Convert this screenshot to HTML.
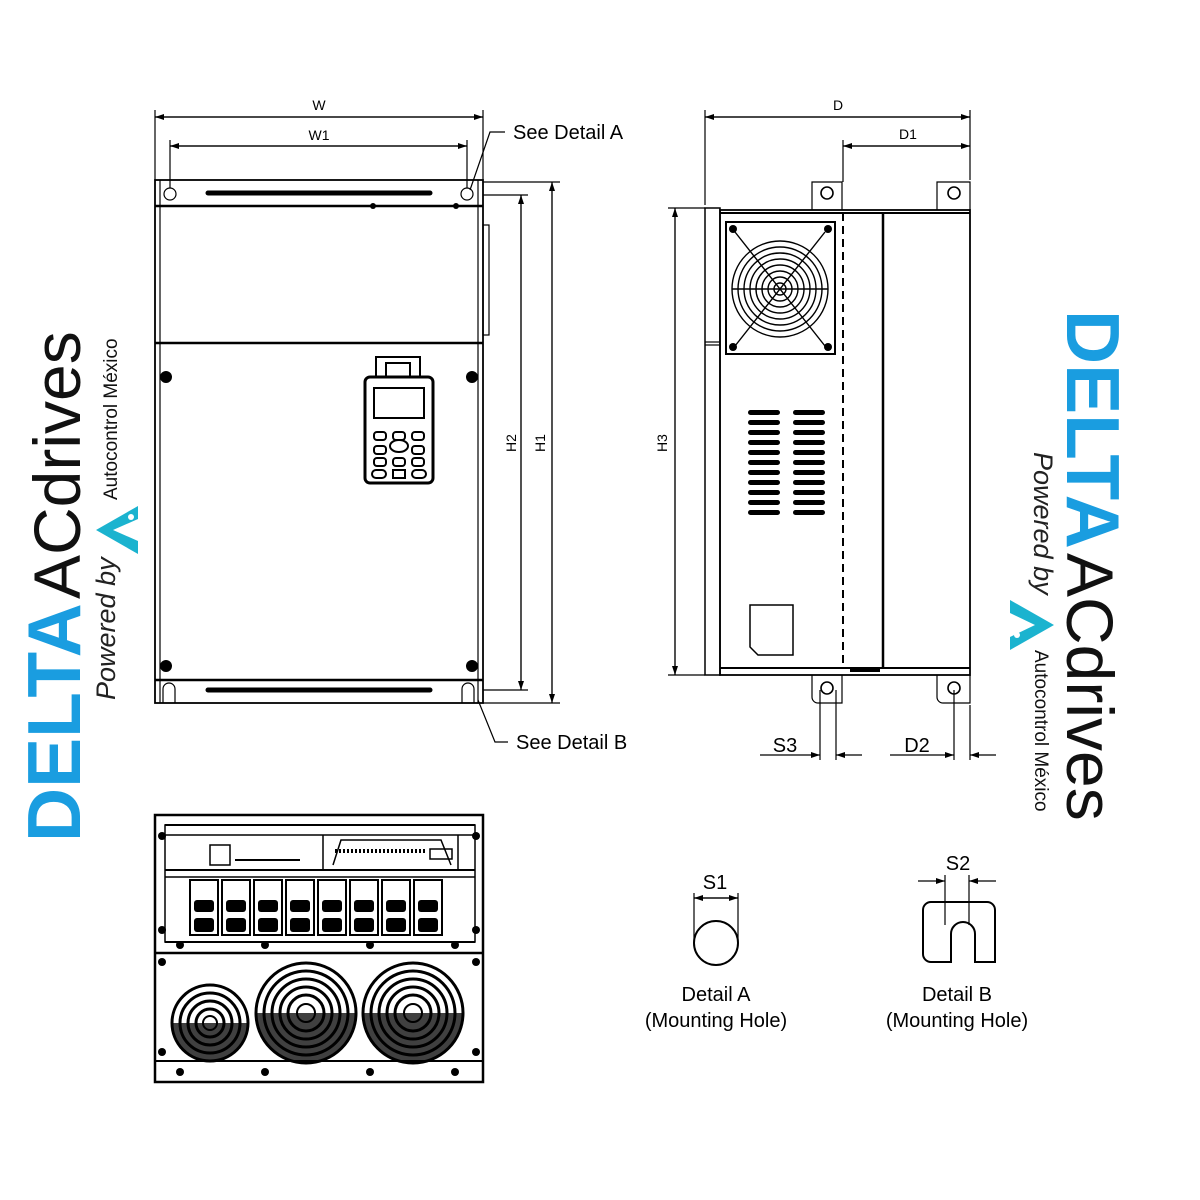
<!DOCTYPE html>
<html><head><meta charset="utf-8"><style>
html,body{margin:0;padding:0;background:#fff;}
svg{display:block;}
text{font-family:"Liberation Sans",sans-serif;}
</style></head><body>
<svg width="1200" height="1200" viewBox="0 0 1200 1200" xmlns="http://www.w3.org/2000/svg">
<defs>
<marker id="ar" markerWidth="10" markerHeight="8" refX="9" refY="4" orient="auto" markerUnits="userSpaceOnUse"><path d="M0,1 L9,4 L0,7 z" fill="#000"/></marker>
</defs>
<g fill="none" stroke="#000" stroke-width="1.2">
<line x1="155" y1="110" x2="155" y2="180"/><line x1="483" y1="110" x2="483" y2="180"/>
<line x1="155" y1="117" x2="483" y2="117" marker-end="url(#ar)"/><line x1="483" y1="117" x2="155" y2="117" marker-end="url(#ar)"/>
<line x1="170" y1="140" x2="170" y2="188"/><line x1="467" y1="140" x2="467" y2="188"/>
<line x1="170" y1="146" x2="467" y2="146" marker-end="url(#ar)"/><line x1="467" y1="146" x2="170" y2="146" marker-end="url(#ar)"/>
<line x1="483" y1="182" x2="560" y2="182"/><line x1="483" y1="703" x2="560" y2="703"/>
<line x1="552" y1="182" x2="552" y2="703" marker-end="url(#ar)"/><line x1="552" y1="703" x2="552" y2="182" marker-end="url(#ar)"/>
<line x1="483" y1="195" x2="528" y2="195"/><line x1="483" y1="690" x2="528" y2="690"/>
<line x1="521" y1="195" x2="521" y2="690" marker-end="url(#ar)"/><line x1="521" y1="690" x2="521" y2="195" marker-end="url(#ar)"/>
<polyline points="470,190 490,132 505,132"/>
<polyline points="478,700 495,742 508,742"/>
<rect x="155" y="180" width="328" height="523" stroke-width="1.8"/>
<line x1="155" y1="206" x2="483" y2="206" stroke-width="2.5"/>
<line x1="155" y1="343" x2="483" y2="343" stroke-width="2.5"/>
<line x1="155" y1="680" x2="483" y2="680" stroke-width="2.5"/>
<line x1="160" y1="180" x2="160" y2="703"/><line x1="478" y1="180" x2="478" y2="703"/>
<circle cx="170" cy="194" r="6"/><circle cx="467" cy="194" r="6"/>
<line x1="208" y1="193" x2="430" y2="193" stroke-width="5" stroke-linecap="round"/>
<line x1="208" y1="690" x2="430" y2="690" stroke-width="5" stroke-linecap="round"/>
<path d="M163,703 v-14 a6,6 0 0 1 12,0 v14"/><path d="M462,703 v-14 a6,6 0 0 1 12,0 v14"/>
<rect x="483" y="225" width="6" height="110"/>
<rect x="365" y="377" width="68" height="106" rx="5" stroke-width="3"/>
<path d="M376,377 v-20 h44 v20 M386,377 v-14 h24 v14" stroke-width="2"/>
<rect x="374" y="388" width="50" height="30" stroke-width="2"/>
<g stroke-width="2">
<rect x="374" y="432" width="12" height="8" rx="3"/><rect x="393" y="432" width="12" height="8" rx="3"/><rect x="412" y="432" width="12" height="8" rx="3"/>
<rect x="374" y="446" width="12" height="8" rx="3"/><ellipse cx="399" cy="446" rx="9" ry="6"/><rect x="412" y="446" width="12" height="8" rx="3"/>
<rect x="374" y="458" width="12" height="8" rx="3"/><rect x="393" y="458" width="12" height="8" rx="3"/><rect x="412" y="458" width="12" height="8" rx="3"/>
<rect x="372" y="470" width="14" height="8" rx="4"/><rect x="393" y="470" width="12" height="8"/><rect x="412" y="470" width="14" height="8" rx="4"/>
</g>
</g>
<g fill="#000">
<circle cx="166" cy="377" r="6"/><circle cx="472" cy="377" r="6"/>
<circle cx="166" cy="666" r="6"/><circle cx="472" cy="666" r="6"/>
<circle cx="373" cy="206" r="3"/><circle cx="456" cy="206" r="3"/>
</g>
<g fill="#000">
<text x="319" y="110" text-anchor="middle" font-size="14">W</text>
<text x="319" y="140" text-anchor="middle" font-size="14">W1</text>
<text x="513" y="139" font-size="20">See Detail A</text>
<text x="516" y="749" font-size="20">See Detail B</text>
<text transform="translate(516,443) rotate(-90)" text-anchor="middle" font-size="14">H2</text>
<text transform="translate(545,443) rotate(-90)" text-anchor="middle" font-size="14">H1</text>
<text transform="translate(667,443) rotate(-90)" text-anchor="middle" font-size="14">H3</text>
<text x="838" y="110" text-anchor="middle" font-size="14">D</text>
<text x="908" y="139" text-anchor="middle" font-size="14">D1</text>
<text x="785" y="752" text-anchor="middle" font-size="20">S3</text>
<text x="917" y="752" text-anchor="middle" font-size="20">D2</text>
<text x="715" y="889" text-anchor="middle" font-size="20">S1</text>
<text x="958" y="870" text-anchor="middle" font-size="20">S2</text>
<text x="716" y="1001" text-anchor="middle" font-size="20">Detail A</text>
<text x="716" y="1027" text-anchor="middle" font-size="20">(Mounting Hole)</text>
<text x="957" y="1001" text-anchor="middle" font-size="20">Detail B</text>
<text x="957" y="1027" text-anchor="middle" font-size="20">(Mounting Hole)</text>
</g>
<g fill="none" stroke="#000" stroke-width="1.2">
<line x1="705" y1="110" x2="705" y2="205"/><line x1="970" y1="110" x2="970" y2="180"/>
<line x1="705" y1="117" x2="970" y2="117" marker-end="url(#ar)"/><line x1="970" y1="117" x2="705" y2="117" marker-end="url(#ar)"/>
<line x1="843" y1="140" x2="843" y2="182"/>
<line x1="843" y1="146" x2="970" y2="146" marker-end="url(#ar)"/><line x1="970" y1="146" x2="843" y2="146" marker-end="url(#ar)"/>
<line x1="668" y1="208" x2="705" y2="208"/><line x1="668" y1="675" x2="705" y2="675"/>
<line x1="675" y1="208" x2="675" y2="675" marker-end="url(#ar)"/><line x1="675" y1="675" x2="675" y2="208" marker-end="url(#ar)"/>
<rect x="705" y="208" width="15" height="467" stroke-width="1.5"/>
<line x1="705" y1="342" x2="720" y2="342"/><line x1="705" y1="345" x2="720" y2="345"/>
<rect x="720" y="210" width="250" height="465" stroke-width="1.8"/>
<line x1="720" y1="213" x2="970" y2="213" stroke-width="2"/>
<line x1="720" y1="668" x2="970" y2="668" stroke-width="2"/>
<line x1="883" y1="213" x2="883" y2="668" stroke-width="2.5"/>
<line x1="843" y1="213" x2="843" y2="668" stroke-width="2" stroke-dasharray="8,5"/>
<path d="M812,210 v-28 h30 v28 M937,210 v-28 h33 v28"/>
<circle cx="827" cy="193" r="6" stroke-width="1.6"/><circle cx="954" cy="193" r="6" stroke-width="1.6"/>
<path d="M812,675 v22 a6,6 0 0 0 6,6 h24 v-28 M937,675 v22 a6,6 0 0 0 6,6 h27 v-28"/>
<circle cx="827" cy="688" r="6" stroke-width="1.6"/><circle cx="954" cy="688" r="6" stroke-width="1.6"/>
<rect x="726" y="222" width="109" height="132" stroke-width="2"/>
<g transform="translate(780,289)" stroke-width="1.4">
<circle r="48"/><circle r="42"/><circle r="36"/><circle r="30"/><circle r="24"/><circle r="18"/><circle r="12"/><circle r="6"/>
<line x1="-48" y1="0" x2="48" y2="0"/><line x1="-45" y1="-57" x2="45" y2="57"/><line x1="45" y1="-57" x2="-45" y2="57"/>
</g>
<path d="M750,605 h43 v50 h-35 l-8,-8 z" stroke-width="1.5"/>
<line x1="820" y1="690" x2="820" y2="760"/><line x1="836" y1="690" x2="836" y2="760"/>
<line x1="760" y1="755" x2="820" y2="755" marker-end="url(#ar)"/><line x1="862" y1="755" x2="836" y2="755" marker-end="url(#ar)"/>
<line x1="954" y1="690" x2="954" y2="760"/><line x1="970" y1="705" x2="970" y2="760"/>
<line x1="890" y1="755" x2="954" y2="755" marker-end="url(#ar)"/><line x1="996" y1="755" x2="970" y2="755" marker-end="url(#ar)"/>
<circle cx="716" cy="943" r="22" stroke-width="2"/>
<line x1="694" y1="893" x2="694" y2="943"/><line x1="738" y1="893" x2="738" y2="943"/>
<line x1="694" y1="898" x2="738" y2="898" marker-end="url(#ar)"/><line x1="738" y1="898" x2="694" y2="898" marker-end="url(#ar)"/>
<path d="M923,910 a8,8 0 0 1 8,-8 h56 a8,8 0 0 1 8,8 v52 h-20 v-28 a12,12 0 0 0 -24,0 v28 h-20 a8,8 0 0 1 -8,-8 z" stroke-width="2"/>
<line x1="945" y1="875" x2="945" y2="925"/><line x1="969" y1="875" x2="969" y2="925"/>
<line x1="918" y1="881" x2="945" y2="881" marker-end="url(#ar)"/><line x1="996" y1="881" x2="969" y2="881" marker-end="url(#ar)"/>
</g>
<g fill="#000">
<g id="slots">
<rect x="748" y="410" width="32" height="5" rx="2.5"/><rect x="748" y="420" width="32" height="5" rx="2.5"/><rect x="748" y="430" width="32" height="5" rx="2.5"/><rect x="748" y="440" width="32" height="5" rx="2.5"/><rect x="748" y="450" width="32" height="5" rx="2.5"/><rect x="748" y="460" width="32" height="5" rx="2.5"/><rect x="748" y="470" width="32" height="5" rx="2.5"/><rect x="748" y="480" width="32" height="5" rx="2.5"/><rect x="748" y="490" width="32" height="5" rx="2.5"/><rect x="748" y="500" width="32" height="5" rx="2.5"/><rect x="748" y="510" width="32" height="5" rx="2.5"/>
</g>
<use href="#slots" x="45"/>
<circle cx="733" cy="229" r="4"/><circle cx="828" cy="229" r="4"/><circle cx="733" cy="347" r="4"/><circle cx="828" cy="347" r="4"/>
<rect x="850" y="668" width="30" height="4"/>
</g>
<g fill="none" stroke="#000" stroke-width="1.5">
<rect x="155" y="815" width="328" height="267" stroke-width="2.5"/>
<line x1="155" y1="953" x2="483" y2="953" stroke-width="2.5"/>
<line x1="155" y1="1061" x2="483" y2="1061" stroke-width="2"/>
<line x1="165" y1="825" x2="475" y2="825" stroke-width="2"/>
<line x1="165" y1="835" x2="475" y2="835"/>
<line x1="165" y1="870" x2="475" y2="870" stroke-width="2"/>
<line x1="165" y1="877" x2="475" y2="877"/>
<line x1="165" y1="942" x2="475" y2="942" stroke-width="2"/>
<rect x="165" y="825" width="310" height="117"/>
<path d="M323,835 v35 M458,835 v35 M333,865 l8,-25 h100 l10,25"/>
<line x1="335" y1="851" x2="425" y2="851" stroke-width="4" stroke-dasharray="2,2"/>
<rect x="430" y="849" width="22" height="10"/>
<rect x="210" y="845" width="20" height="20"/>
<line x1="235" y1="860" x2="300" y2="860" stroke-width="2"/>
<g stroke-width="2">
<rect x="190" y="880" width="28" height="55"/><rect x="222" y="880" width="28" height="55"/><rect x="254" y="880" width="28" height="55"/><rect x="286" y="880" width="28" height="55"/><rect x="318" y="880" width="28" height="55"/><rect x="350" y="880" width="28" height="55"/><rect x="382" y="880" width="28" height="55"/><rect x="414" y="880" width="28" height="55"/>
</g>
<g transform="translate(210,1023)"><circle r="38" stroke-width="3"/><circle r="30" stroke-width="3"/><circle r="22" stroke-width="3"/><circle r="14" stroke-width="3"/><circle r="7" stroke-width="2"/></g>
<g transform="translate(306,1013)"><circle r="50" stroke-width="3"/><circle r="42" stroke-width="3"/><circle r="34" stroke-width="3"/><circle r="26" stroke-width="3"/><circle r="18" stroke-width="3"/><circle r="9" stroke-width="2"/></g>
<g transform="translate(413,1013)"><circle r="50" stroke-width="3"/><circle r="42" stroke-width="3"/><circle r="34" stroke-width="3"/><circle r="26" stroke-width="3"/><circle r="18" stroke-width="3"/><circle r="9" stroke-width="2"/></g>
</g>
<g fill="#000">
<path d="M172,1023 a38,38 0 0 0 76,0 z" opacity="0.75"/>
<path d="M256,1013 a50,50 0 0 0 100,0 z" opacity="0.75"/>
<path d="M363,1013 a50,50 0 0 0 100,0 z" opacity="0.75"/>
<g id="bolts">
<rect x="194" y="900" width="20" height="12" rx="3"/><rect x="194" y="918" width="20" height="14" rx="3"/>
</g>
<use href="#bolts" x="32"/><use href="#bolts" x="64"/><use href="#bolts" x="96"/><use href="#bolts" x="128"/><use href="#bolts" x="160"/><use href="#bolts" x="192"/><use href="#bolts" x="224"/>
<circle cx="180" cy="945" r="4"/><circle cx="265" cy="945" r="4"/><circle cx="370" cy="945" r="4"/><circle cx="455" cy="945" r="4"/>
<circle cx="162" cy="836" r="4"/><circle cx="476" cy="836" r="4"/><circle cx="162" cy="930" r="4"/><circle cx="476" cy="930" r="4"/>
<circle cx="162" cy="962" r="4"/><circle cx="476" cy="962" r="4"/><circle cx="162" cy="1052" r="4"/><circle cx="476" cy="1052" r="4"/>
<circle cx="180" cy="1072" r="4"/><circle cx="265" cy="1072" r="4"/><circle cx="370" cy="1072" r="4"/><circle cx="455" cy="1072" r="4"/>
</g>
<!-- LEFT LOGO -->
<g transform="translate(80,842) rotate(-90)">
<text x="0" y="0" font-size="75" font-weight="bold" fill="#1a9de0">DELTA</text>
<text x="243" y="0" font-size="66" fill="#111">ACdrives</text>
</g>
<text transform="translate(115,700) rotate(-90)" font-size="27" font-style="italic" fill="#222">Powered by</text>
<polygon points="138,506 96,530 138,554 138,541 113,530 138,519" fill="#1bb3cf"/>
<circle cx="131" cy="517" r="3" fill="#fff"/>
<text transform="translate(117,500) rotate(-90)" font-size="19" fill="#111">Autocontrol México</text>
<!-- RIGHT LOGO -->
<g transform="translate(1067,310) rotate(90)">
<text x="0" y="0" font-size="75" font-weight="bold" fill="#1a9de0">DELTA</text>
<text x="243" y="0" font-size="66" fill="#111">ACdrives</text>
</g>
<text transform="translate(1034,452) rotate(90)" font-size="27" font-style="italic" fill="#222">Powered by</text>
<polygon points="1010,600 1054,625 1010,650 1010,637 1035,625 1010,613" fill="#1bb3cf"/>
<circle cx="1017" cy="635" r="3" fill="#fff"/>
<text transform="translate(1035,650) rotate(90)" font-size="19" fill="#111">Autocontrol México</text>
</svg>
</body></html>
